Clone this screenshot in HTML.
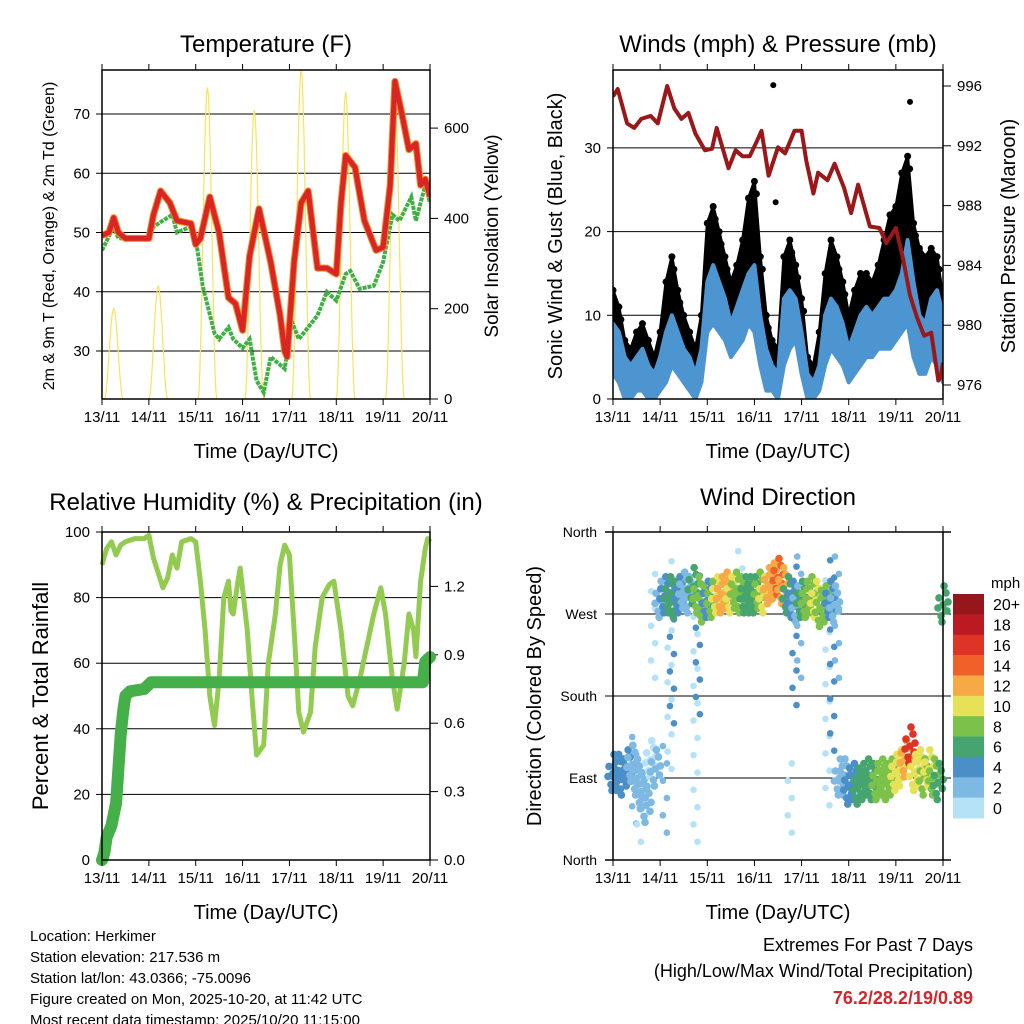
<!DOCTYPE html>
<html><head><meta charset="utf-8"><style>
html,body{margin:0;padding:0;background:#fff;}
svg{display:block;font-family:"Liberation Sans",Arial,sans-serif;}
</style></head><body>
<svg id="s" width="1024" height="1024" viewBox="0 0 1024 1024" xmlns="http://www.w3.org/2000/svg"></svg>
<script>
// ---------- DATA ----------
const tempT=[0,0.15,0.25,0.35,0.5,1.0,1.1,1.25,1.45,1.6,1.9,2.0,2.1,2.3,2.5,2.7,2.85,3.0,3.15,3.35,3.6,3.8,3.9,3.95,4.1,4.25,4.4,4.6,4.8,5.0,5.1,5.2,5.4,5.6,5.85,6.0,6.15,6.25,6.4,6.55,6.7,6.8,6.9,7.0];
const tempV=[49.5,50,52.5,50,49,49,53,57,55,52,51.5,48,49,56,50,39,38,33.5,46,54,45,36,30,29,45,55,57,44,44,43,55,63,61,52,47,47.5,58,75.5,70,64,65,58,59,56];
const dewT=[0,0.25,0.35,1.0,1.1,1.5,1.6,1.9,2.0,2.15,2.4,2.5,2.7,2.8,3.0,3.15,3.3,3.45,3.6,3.9,4.05,4.2,4.4,4.6,4.8,5.0,5.2,5.3,5.5,5.8,6.0,6.2,6.35,6.6,6.7,6.9,7.0];
const dewV=[47,51,49,49,51,53,50,51,49,41,33,32,34,32,30.5,32,25,23,29,27,35,32,34,36,40,38.5,43,43.5,40.5,41,45,53,52,56,52,58,55];
const solarPeakT=[0.25,1.2,2.25,3.25,4.25,5.2,6.25];
const solarPeakV=[200,250,690,640,730,680,660];
const blueHi=[9,8,5,4,5,6,4,3, 5,8,10,8,6,5,3,6, 14,16,14,12,9,11,13,15, 16,10,6,4,3,12,13,12, 8,3,2,4,10,12,11,9, 6,8,10,11,10,11,12,12, 13,15,19,14,10,9,12,13, 10];
const blueLo=[3,2,0,0,1,1,0,0, 1,2,4,3,2,1,0,2, 8,9,8,7,5,6,7,9, 8,4,1,1,0,4,6,7, 3,0,0,1,4,6,5,4, 2,3,4,5,5,6,6,6, 7,8,9,5,3,3,5,4, 2];
const gustHi=[13,11,7,6,8,9,7,5, 8,14,17,13,10,8,6,10, 21,23,20,17,14,16,19,24, 26,17,10,7,6,17,19,16, 12,5,4,8,15,19,17,14, 10,13,15,15,14,16,19,22, 23,27,29,21,18,17,18,17, 12];
const gustLo=[7,6,3,2,3,4,2,1, 4,6,8,6,4,3,2,5, 12,13,12,10,8,9,10,13, 13,7,3,2,2,7,9,9, 5,1,1,3,7,9,8,7, 4,6,7,8,8,8,9,10, 11,12,14,9,7,6,8,8, 5];
const gustOutT=[3.4,3.45,6.3];
const gustOutV=[37.5,23.5,35.5];
const presT=[0,0.1,0.3,0.45,0.6,0.8,0.95,1.15,1.3,1.45,1.6,1.75,1.95,2.1,2.2,2.45,2.6,2.75,2.9,3.05,3.15,3.3,3.5,3.65,3.85,4.0,4.1,4.25,4.35,4.55,4.7,4.9,5.05,5.2,5.45,5.65,5.8,6.0,6.15,6.3,6.45,6.6,6.75,6.9,6.95,7.0];
const presV=[995.3,995.8,993.5,993.2,993.8,994,993.5,996,994.5,993.8,994.2,992.8,991.7,991.8,993.2,990.5,991.7,991.3,991.3,992.3,993,990,991.9,991.5,993,993,991,988.8,990.2,989.7,990.8,989.2,987.5,989.4,986.6,986.5,985.5,986.5,984.5,982,980.5,979.3,979.5,976.3,976.5,977.5];
const rhT=[0,0.1,0.2,0.3,0.4,0.5,0.7,0.9,1.0,1.1,1.3,1.4,1.5,1.6,1.7,1.9,2.0,2.1,2.2,2.3,2.4,2.5,2.6,2.7,2.75,2.8,2.9,2.95,3.1,3.2,3.3,3.45,3.55,3.7,3.8,3.9,4.0,4.1,4.2,4.3,4.45,4.55,4.7,4.85,4.95,5.1,5.25,5.35,5.5,5.65,5.8,5.95,6.05,6.2,6.3,6.45,6.55,6.65,6.7,6.8,6.9,6.95,7.0];
const rhV=[90,95,97,93,96,97,98,98,99,92,83,86,93,89,97,98,97,85,70,50,41,55,80,85,76,75,85,89,70,50,32,35,60,75,90,96,93,70,45,39,45,65,80,84,85,70,50,47,55,65,75,83,75,55,46,60,75,70,62,85,95,98,97];
const prT=[0,0.05,0.1,0.2,0.3,0.35,0.4,0.45,0.5,0.6,0.9,1.0,1.05,6.85,6.9,7.0];
const prV=[0,0.03,0.1,0.15,0.25,0.4,0.55,0.65,0.72,0.74,0.75,0.77,0.78,0.78,0.87,0.89];
const dirV=[95,95,90,100,105,90,75,60,110,100, 285,290,290,285,290,295,290,300,290,280, 285,285,290,290,295,290,295,290,290,290, 290,295,290,300,305,310,300,290,285,280, 285,285,290,285,275,280,285,280,90,90, 80,85,80,85,90,85,85,90,85,90, 95,100,110,125,95,100,90,100,90,85,280];
const spdV=[4,5,5,4,3,3,2,2,1,2, 3,4,6,7,5,3,3,6,8,9, 4,8,10,12,12,10,9,8,7,7, 7,8,10,12,13,15,12,6,4,3, 6,8,9,10,8,9,4,3,3,3, 4,5,6,6,7,7,8,8,9,9, 10,11,12,17,11,10,9,10,8,7,6];
const streakT=[0.45,0.55,0.85,1.1,1.2,1.25,1.75,1.8,2.7,3.75,3.85,3.95,4.55,4.65,4.75];
const streakLo=[40,20,200,30,100,150,20,160,320,30,170,200,60,120,200];
const streakHi=[150,110,330,140,330,320,320,330,340,120,330,340,320,330,340];
const streakSpd=[1,0,0,1,0,2,0,2,0,0,2,1,0,2,1];
const speedColors=['#b5e2f7','#7db9e3','#4a8fc7','#46a56e','#7cc24a','#e6e157','#f6a945','#ef6129','#de3426','#bb1a22','#95161b'];
const speedLabels=['0','2','4','6','8','10','12','14','16','18','20+'];
const dayLabels=['13/11','14/11','15/11','16/11','17/11','18/11','19/11','20/11'];

// ---------- HELPERS ----------
const S=document.getElementById('s');const NS='http://www.w3.org/2000/svg';
function el(tag,attrs,parent){const e=document.createElementNS(NS,tag);for(const k in attrs)e.setAttribute(k,attrs[k]);(parent||S).appendChild(e);return e;}
function txt(x,y,s,size,anchor,extra){const e=el('text',Object.assign({x:x,y:y,'font-size':size,'text-anchor':anchor||'middle',fill:'#000'},extra||{}));e.textContent=s;return e;}
function line(pts){return pts.map((p,i)=>(i?'L':'M')+p[0].toFixed(1)+' '+p[1].toFixed(1)).join('');}

function panelFrame(name,x0,x1,y0,y1,title,ty){
  const g=el('g',{});
  
  
  const t=txt((x0+x1)/2,ty,title,24,'middle');
  
  
  return g;
}
function xAxis(g,x0,x1,y0,y1,name){
  const dx=(x1-x0)/7;
  for(let i=0;i<dayLabels.length;i++){
    const x=x0+i*dx;
    el('line',{x1:x,x2:x,y1:y1,y2:y1+6,stroke:'#000','stroke-width':1},g);
    el('line',{x1:x,x2:x,y1:y0,y2:y0-6,stroke:'#000','stroke-width':1},g);
    const t=txt(x,y1+23,dayLabels[i],15,'middle');
    
    
  }
  const lab=txt((x0+x1)/2,y1+59,'Time (Day/UTC)',20,'middle');
  
  
}

// ================= PANEL 1 =================
(function(){
  const x0=102,x1=430,y0=70,y1=399;
  const X=t=>x0+t*(x1-x0)/7;
  const Y=v=>351-(v-30)*5.925;
  const YS=v=>399-v*0.4515;
  const g=panelFrame('temperature-panel',x0,x1,y0,y1,'Temperature (F)',52);
  const cp=el('clipPath',{id:'c1'});el('rect',{x:x0,y:y0,width:x1-x0,height:y1-y0},cp);
  [30,40,50,60,70].forEach(v=>{
    el('line',{x1:x0,x2:x1,y1:Y(v),y2:Y(v),stroke:'#000','stroke-width':1},g);
    el('line',{x1:x0-6,x2:x0,y1:Y(v),y2:Y(v),stroke:'#000'},g);
    const t=txt(x0-12,Y(v)+5,String(v),15,'end');
    
    
  });
  [0,200,400,600].forEach(v=>{
    el('line',{x1:x1,x2:x1+8,y1:YS(v),y2:YS(v),stroke:'#000'},g);
    const t=txt(x1+14,YS(v)+5,String(v),15,'start');
    
    
  });
  const sg=el('g',{'clip-path':'url(#c1)'},g);
  for(let i=0;i<solarPeakT.length;i++){
    const pts=[];const c=solarPeakT[i],pk=solarPeakV[i];
    for(let k=0;k<=20;k++){const f=k/20;const t=c-0.2+0.4*f;pts.push([X(t),YS(pk*Math.pow(Math.sin(Math.PI*f),2))]);}
    const p=el('path',{d:line(pts),fill:'none',stroke:'#f9e35a','stroke-width':1.2},sg);
    
    
  }
  const dw=el('path',{d:line(dewT.map((t,i)=>[X(t),Y(dewV[i])])),fill:'none',stroke:'#3fb043','stroke-width':4,'stroke-dasharray':'4 1'},sg);
  
  
  const tp2=el('path',{d:line(tempT.map((t,i)=>[X(t),Y(tempV[i])])),fill:'none',stroke:'#f7861e','stroke-width':7,'stroke-linejoin':'round'},sg);
  
  
  const tp=el('path',{d:line(tempT.map((t,i)=>[X(t),Y(tempV[i])])),fill:'none',stroke:'#d82626','stroke-width':5,'stroke-linejoin':'round'},sg);
  
  
  el('rect',{x:x0,y:y0,width:x1-x0,height:y1-y0,fill:'none',stroke:'#000','stroke-width':1.5},g);
  xAxis(g,x0,x1,y0,y1,'temperature');
  const yl=txt(0,0,'2m & 9m T (Red, Orange) & 2m Td (Green)',16,'middle',{transform:'translate(54,236) rotate(-90)'});
  
  
  const yr=txt(0,0,'Solar Insolation (Yellow)',19,'middle',{transform:'translate(498,236) rotate(-90)'});
  
  
})();

// ================= PANEL 2 =================
(function(){
  const x0=613,x1=943,y0=70,y1=399;
  const X=t=>x0+t*(x1-x0)/7;
  const Y=v=>399-v*8.37;
  const YP=p=>86+(996-p)*14.95;
  const g=panelFrame('winds-panel',x0,x1,y0,y1,'Winds (mph) & Pressure (mb)',52);
  const cp=el('clipPath',{id:'c2'});el('rect',{x:x0,y:y0-10,width:x1-x0,height:y1-y0+10},cp);
  [0,10,20,30].forEach(v=>{
    if(v>0)el('line',{x1:x0,x2:x1,y1:Y(v),y2:Y(v),stroke:'#000','stroke-width':1},g);
    el('line',{x1:x0-6,x2:x0,y1:Y(v),y2:Y(v),stroke:'#000'},g);
    const t=txt(x0-12,Y(v)+5,String(v),15,'end');
    
    
  });
  [976,980,984,988,992,996].forEach(p=>{
    el('line',{x1:x1,x2:x1+8,y1:YP(p),y2:YP(p),stroke:'#000'},g);
    const t=txt(x1+14,YP(p)+5,String(p),15,'start');
    
    
  });
  const sg=el('g',{'clip-path':'url(#c2)'},g);
  const n=gustHi.length,step=7/(n-1);
  const band=(hi,lo)=>{const top=hi.map((v,i)=>[X(i*step),Y(v)]);const bot=lo.map((v,i)=>[X(i*step),Y(v)]).reverse();return line(top.concat(bot))+'Z';};
  const gb=el('path',{d:band(gustHi,gustLo),fill:'#000',stroke:'#000','stroke-width':3,'stroke-linejoin':'round'},sg);
  
  
  for(let i=0;i<n;i++){
    [0,-1.5].forEach(dv=>{
      const c=el('circle',{cx:X(i*step)+(dv?2:0),cy:Y(gustHi[i]+dv),r:3.5,fill:'#000'},sg);
      
      
    });
  }
  gustOutT.forEach((t,i)=>{
    const c=el('circle',{cx:X(t),cy:Y(gustOutV[i]),r:3,fill:'#000'},sg);
    
    
  });
  const wb=el('path',{d:band(blueHi,blueLo),fill:'#4d95d0',stroke:'#4d95d0','stroke-width':4,'stroke-linejoin':'round'},sg);
  
  
  const pl=el('path',{d:line(presT.map((t,i)=>[X(t),YP(presV[i])])),fill:'none',stroke:'#9b1719','stroke-width':4,'stroke-linejoin':'round'},sg);
  
  
  el('rect',{x:x0,y:y0,width:x1-x0,height:y1-y0,fill:'none',stroke:'#000','stroke-width':1.5},g);
  xAxis(g,x0,x1,y0,y1,'winds');
  const yl=txt(0,0,'Sonic Wind & Gust (Blue, Black)',20,'middle',{transform:'translate(562,236) rotate(-90)'});
  
  
  const yr=txt(0,0,'Station Pressure (Maroon)',20,'middle',{transform:'translate(1015,236) rotate(-90)'});
  
  
})();

// ================= PANEL 3 =================
(function(){
  const x0=102,x1=430,y0=532,y1=860;
  const X=t=>x0+t*(x1-x0)/7;
  const Y=v=>860-v*3.28;
  const YR=v=>860-v*228;
  const g=panelFrame('humidity-panel',x0,x1,y0,y1,'Relative Humidity (%) & Precipitation (in)',510);
  [0,20,40,60,80,100].forEach(v=>{
    if(v>0&&v<100)el('line',{x1:x0,x2:x1,y1:Y(v),y2:Y(v),stroke:'#000','stroke-width':1},g);
    el('line',{x1:x0-6,x2:x0,y1:Y(v),y2:Y(v),stroke:'#000'},g);
    const t=txt(x0-12,Y(v)+5,String(v),15,'end');
    
    
  });
  ['0.0','0.3','0.6','0.9','1.2'].forEach(s=>{
    const v=parseFloat(s);
    el('line',{x1:x1,x2:x1+8,y1:YR(v),y2:YR(v),stroke:'#000'},g);
    const t=txt(x1+14,YR(v)+5,s,15,'start');
    
    
  });
  const rh=el('path',{d:line(rhT.map((t,i)=>[X(t),Y(rhV[i])])),fill:'none',stroke:'#92cb50','stroke-width':5,'stroke-linejoin':'round'},g);
  
  
  const pr=el('path',{d:line(prT.map((t,i)=>[X(t),YR(prV[i])])),fill:'none',stroke:'#45b04a','stroke-width':12,'stroke-linejoin':'round','stroke-linecap':'round'},g);
  
  
  el('rect',{x:x0,y:y0,width:x1-x0,height:y1-y0,fill:'none',stroke:'#000','stroke-width':1.5},g);
  xAxis(g,x0,x1,y0,y1,'humidity');
  const yl=txt(0,0,'Percent & Total Rainfall',22,'middle',{transform:'translate(48,696) rotate(-90)'});
  
  
})();

// ================= PANEL 4 =================
(function(){
  const x0=613,x1=943,y0=532,y1=860;
  const X=t=>x0+t*(x1-x0)/7;
  const Y=d=>860-d*(328/360);
  const g=panelFrame('wind-direction-panel',x0,x1,y0,y1,'Wind Direction',505);
  const labs=['North','East','South','West','North'];
  labs.forEach((s,i)=>{
    const y=Y(i*90);
    if(i>0&&i<4)el('line',{x1:x0-8,x2:x1+8,y1:y,y2:y,stroke:'#000','stroke-width':1},g);
    const t=txt(x0-16,y+5,s,14,'end');
    
    
  });
  const sg=el('g',{},g);
  for(let i=0;i<streakT.length;i++){
    let k=0;
    for(let d=streakLo[i];d<=streakHi[i];d+=19){
      k++;
      const c=el('circle',{cx:X(streakT[i])+(k%2?2:-2),cy:Y(d),r:3.3,fill:speedColors[streakSpd[i]]},sg);
      
      
    }
  }
  const offs=[[0,0],[-4,-7],[4,6],[-2,11],[3,-12],[-5,3],[5,-3],[1,-19],[-1,17]];
  for(let i=0;i<dirV.length;i++){
    const ci=Math.min(10,Math.floor(spdV[i]/2));
    offs.forEach(o=>{
      const c=el('circle',{cx:X(i*0.1)+o[0],cy:Y(dirV[i])+o[1],r:3.8,fill:speedColors[ci]},sg);
      
      
    });
  }
  el('line',{x1:x0,x2:x0,y1:y0,y2:y1,stroke:'#000','stroke-width':1.5},g);
  el('line',{x1:x1,x2:x1,y1:y0,y2:y1,stroke:'#000','stroke-width':1.5},g);
  el('line',{x1:x0-8,x2:x1+8,y1:y0,y2:y0,stroke:'#000','stroke-width':1.5},g);
  el('line',{x1:x0-8,x2:x1+8,y1:y1,y2:y1,stroke:'#000','stroke-width':1.5},g);
  xAxis(g,x0,x1,y0,y1,'direction');
  const yl=txt(0,0,'Direction (Colored By Speed)',20,'middle',{transform:'translate(541,696) rotate(-90)'});
  
  
  const lg=el('g',{},S);
  
  
  const by0=594,bh=(818-594)/11;
  for(let k=0;k<11;k++){
    const idx=10-k;
    const r=el('rect',{x:953,y:by0+k*bh,width:31,height:bh+0.5,fill:speedColors[idx]},lg);
    
    
    const t=txt(993,by0+k*bh+bh/2+6,speedLabels[idx],16,'start');
    
    
  }
  const m=txt(991,588,'mph',15,'start');
  
  
})();

// ================= FOOTER =================
const info=['Location: Herkimer','Station elevation: 217.536 m','Station lat/lon: 43.0366; -75.0096','Figure created on Mon, 2025-10-20, at 11:42 UTC','Most recent data timestamp: 2025/10/20 11:15:00'];
info.forEach((s,i)=>{
  const t=txt(30,941+i*21,s,15,'start');
  
  
});
const e1=txt(973,951,'Extremes For Past 7 Days',18,'end');


const e2=txt(973,977,'(High/Low/Max Wind/Total Precipitation)',18,'end');


const e3=txt(973,1004,'76.2/28.2/19/0.89',18,'end',{fill:'#d1262b','font-weight':'bold'});


</script>
</body></html>
